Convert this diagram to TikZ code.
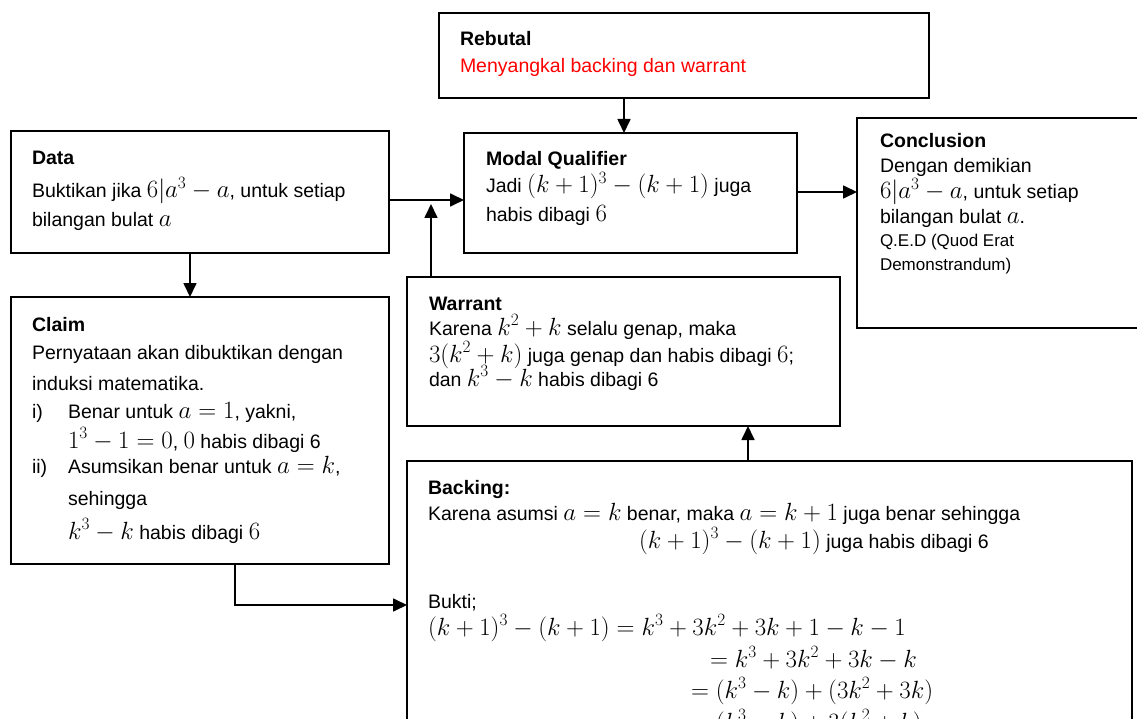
\documentclass[tikz,border=0pt]{standalone}
\usepackage{fontspec}
\setmainfont{Liberation Sans}
\DeclareMathSizes{19.5}{23}{16.5}{12.5}
\usetikzlibrary{arrows.meta}
\definecolor{rebred}{RGB}{255,0,0}
\begin{document}
\begin{tikzpicture}[x=1pt,y=-1pt,
  box/.style={draw, line width=1.7pt, inner sep=0pt, outer sep=0pt, anchor=north west},
  txt/.style={anchor=base west, inner sep=0pt, outer sep=0pt, font=\fontsize{19.5}{23}\selectfont},
  small/.style={anchor=base west, inner sep=0pt, outer sep=0pt, font=\fontsize{17}{20}\selectfont},
  arr/.style={line width=1.7pt, -{Triangle[length=14pt,width=13pt]}}]
\useasboundingbox (0,0) rectangle (1137,719);
\begin{scope}
\clip (0,0) rectangle (1137,719);
% boxes
\node[box, minimum width=490pt, minimum height=85pt] (reb) at (439,13) {};
\node[box, minimum width=333pt, minimum height=120pt] (modal) at (464,133) {};
\node[box, minimum width=378pt, minimum height=122pt] (data) at (11,131) {};
\node[box, minimum width=378pt, minimum height=267pt] (claim) at (11,297) {};
\node[box, minimum width=300pt, minimum height=210pt] (concl) at (857,118) {};
\node[box, minimum width=433pt, minimum height=149pt] (warr) at (407,277) {};
\node[box, minimum width=725pt, minimum height=300pt] (back) at (407,461) {};

% Rebutal
\node[txt] (t1) at (460,46) {\textbf{Rebutal}};
\node[txt, text=rebred] (t2) at (460,73) {Menyangkal backing dan warrant};
% Modal qualifier
\node[txt] (t3) at (486,166) {\textbf{Modal Qualifier}};
\node[txt] (t4) at (486,193) {Jadi $(k+1)^3-(k+1)$ juga};
\node[txt] (t5) at (486,222) {habis dibagi $6$};
% Data
\node[txt] (t6) at (32,165) {\textbf{Data}};
\node[txt] (t7) at (32,198) {Buktikan jika $6|a^3-a$, untuk setiap};
\node[txt] (t8) at (32,227) {bilangan bulat $a$};
% Claim
\node[txt] (t9) at (32,331) {\textbf{Claim}};
\node[txt] (t10) at (32,359) {Pernyataan akan dibuktikan dengan};
\node[txt] (t11) at (32,390) {induksi matematika.};
\node[txt] (t12) at (32,418) {i)};
\node[txt] (t13) at (68,418) {Benar untuk $a=1$, yakni,};
\node[txt] (t14) at (68,448) {$1^3-1=0$, $0$ habis dibagi 6};
\node[txt] (t15) at (32,473) {ii)};
\node[txt] (t16) at (68,473) {Asumsikan benar untuk $a=k$,};
\node[txt] (t17) at (68,505) {sehingga};
\node[txt] (t18) at (68,539) {$k^3-k$ habis dibagi $6$};
% Conclusion
\node[txt] (t19) at (880,148) {\textbf{Conclusion}};
\node[txt] (t20) at (880,173) {Dengan demikian};
\node[txt] (t21) at (880,199) {$6|a^3-a$, untuk setiap};
\node[txt] (t22) at (880,224) {bilangan bulat $a$.};
\node[small] (t23) at (880,247) {Q.E.D (Quod Erat};
\node[small] (t24) at (880,270) {Demonstrandum)};
% Warrant
\node[txt] (t25) at (429,310) {\textbf{Warrant}};
\node[txt] (t26) at (429,335) {Karena $k^2+k$ selalu genap, maka};
\node[txt] (t27) at (429,362) {$3(k^2+k)$ juga genap dan habis dibagi $6$;};
\node[txt] (t28) at (429,386) {dan $k^3-k$ habis dibagi 6};
% Backing
\node[txt] (t29) at (428,494) {\textbf{Backing:}};
\node[txt] (t30) at (428,520) {Karena asumsi $a=k$ benar, maka $a=k+1$ juga benar sehingga};
\node[txt] (t31) at (639,548) {$(k+1)^3-(k+1)$ juga habis dibagi 6};
\node[txt] (t32) at (428,608) {Bukti;};
\node[txt] (t33) at (428,635) {$(k+1)^3-(k+1)=k^3+3k^2+3k+1-k-1$};
\node[txt] (t34) at (710,667) {$=k^3+3k^2+3k-k$};
\node[txt] (t35) at (691,698) {$=(k^3-k)+(3k^2+3k)$};
\node[txt] (t36) at (691,730) {$=(k^3-k)+3(k^2+k)$};

% connector helper coordinates
\coordinate (xr) at (624,0);
\coordinate (yd) at (0,200);
\coordinate (xw) at (431,0);
\coordinate (wtip) at (431,204);
\coordinate (xd) at (190,0);
\coordinate (xc) at (235,0);
\coordinate (yc) at (0,605);
\coordinate (xb) at (748,0);
\coordinate (yq) at (0,192);

\draw[arr] (reb.south -| xr) -- (modal.north -| xr);
\draw[arr] (data.east |- yd) -- (modal.west |- yd);
\draw[arr] (warr.north -| xw) -- (wtip);
\draw[arr] (modal.east |- yq) -- (concl.west |- yq);
\draw[arr] (data.south -| xd) -- (claim.north -| xd);
\draw[arr] (claim.south -| xc) -- (xc |- yc) -- (back.west |- yc);
\draw[arr] (back.north -| xb) -- (warr.south -| xb);
\end{scope}
\end{tikzpicture}
\end{document}
